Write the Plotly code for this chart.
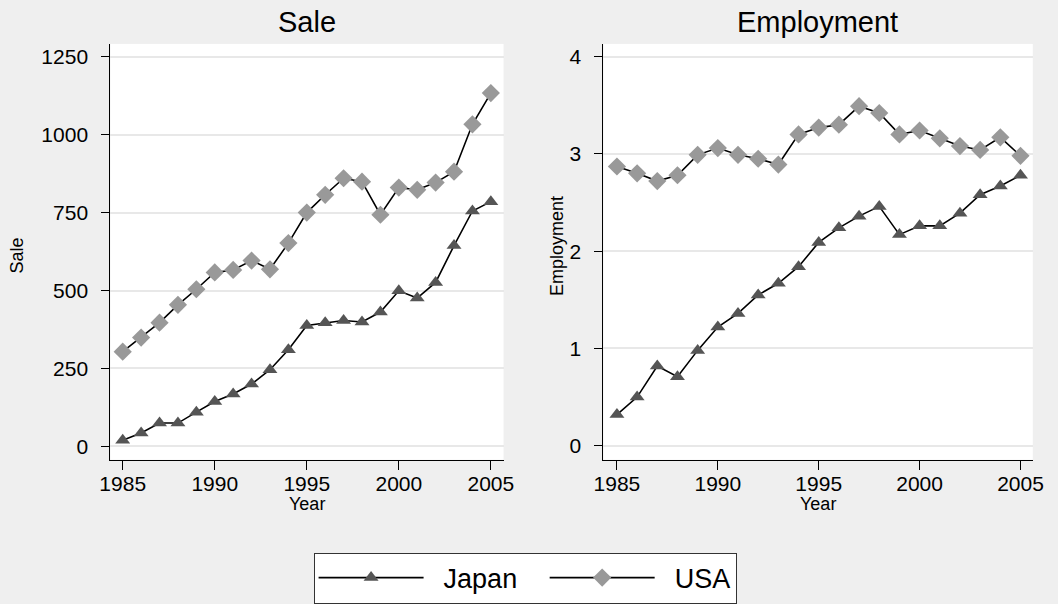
import plotly.graph_objects as go

# Annual series, 1985-2005
years = list(range(1985, 2006))

sale_japan = [20, 43, 75, 75, 110, 144, 168, 200, 246, 310, 388, 397, 404, 399,
              431, 499, 476, 526, 644, 755, 785]
sale_usa = [304, 349, 397, 454, 504, 558, 566, 596, 568, 652, 750, 807, 860, 849,
            743, 830, 823, 846, 881, 1033, 1133]

emp_japan = [0.32, 0.50, 0.82, 0.71, 0.98, 1.22, 1.36, 1.55, 1.67, 1.84, 2.09, 2.24,
             2.36, 2.46, 2.17, 2.26, 2.26, 2.39, 2.58, 2.67, 2.78]
emp_usa = [2.87, 2.80, 2.72, 2.78, 2.99, 3.06, 2.99, 2.95, 2.89, 3.20, 3.27, 3.30,
           3.49, 3.42, 3.20, 3.24, 3.16, 3.08, 3.04, 3.17, 2.98]

x_ticks = [1985, 1990, 1995, 2000, 2005]
sale_ticks = [0, 250, 500, 750, 1000, 1250]
emp_ticks = [0, 1, 2, 3, 4]

FONT = "Liberation Sans, Arial, sans-serif"
BG = "#efefef"
GRID = "#e8e8e8"
JAPAN_COLOR = "#555555"
USA_COLOR = "#999999"

W, H = 1058, 604


def px_x(v):
    return v / W


def px_y(v):
    return 1 - v / H


fig = go.Figure()

line_style = dict(color="black", width=1.6)
japan_marker = dict(symbol="triangle-up", size=13, color=JAPAN_COLOR)
usa_marker = dict(symbol="diamond", size=14, color=USA_COLOR)

# legend labels carry a little room around the text
NB = "\u00a0"
fig.add_trace(go.Scatter(x=years, y=sale_japan, mode="lines+markers",
                         name=NB * 2 + "Japan" + NB * 3,
                         line=line_style, marker=japan_marker, xaxis="x", yaxis="y",
                         legendgroup="japan"))
fig.add_trace(go.Scatter(x=years, y=sale_usa, mode="lines+markers",
                         name=NB * 2 + "USA",
                         line=line_style, marker=usa_marker, xaxis="x", yaxis="y",
                         legendgroup="usa"))
fig.add_trace(go.Scatter(x=years, y=emp_japan, mode="lines+markers", name="Japan",
                         line=line_style, marker=japan_marker, xaxis="x2", yaxis="y2",
                         legendgroup="japan", showlegend=False))
fig.add_trace(go.Scatter(x=years, y=emp_usa, mode="lines+markers", name="USA",
                         line=line_style, marker=usa_marker, xaxis="x2", yaxis="y2",
                         legendgroup="usa", showlegend=False))

y_dom = [px_y(460.5), px_y(44)]
left_dom = [px_x(101.5), px_x(503)]
right_dom = [px_x(605), px_x(1043.5)]

common_x = dict(tickvals=x_ticks, ticks="outside", ticklen=9, tickwidth=1.2,
                tickcolor="black", showline=True, linecolor="black", linewidth=1.2,
                showgrid=False, zeroline=False,
                tickfont=dict(family=FONT, size=21, color="black"),
                ticklabelstandoff=-4)
common_y = dict(ticks="outside", ticklen=8, tickwidth=1.2, tickcolor="black",
                showline=True, linecolor="black", linewidth=1.2,
                showgrid=True, gridcolor=GRID, gridwidth=1.6, zeroline=False,
                tickfont=dict(family=FONT, size=21, color="black"),
                ticklabelstandoff=9)

fig.update_layout(
    width=W, height=H,
    margin=dict(l=0, r=0, t=0, b=0),
    paper_bgcolor=BG, plot_bgcolor="white",
    font=dict(family=FONT, color="black"),
    xaxis=dict(domain=left_dom, range=[1984.33, 2005.69], anchor="y", **common_x),
    yaxis=dict(domain=y_dom, range=[-42.6, 1290.7], tickvals=sale_ticks, anchor="x",
               **common_y),
    xaxis2=dict(domain=right_dom, range=[1984.33, 2005.61], anchor="y2", **common_x),
    yaxis2=dict(domain=y_dom, range=[-0.144, 4.13], tickvals=emp_ticks, anchor="x2",
                **common_y),
    showlegend=True,
    legend=dict(orientation="h", x=px_x(525), xanchor="center", y=px_y(579),
                yanchor="middle", bgcolor="white", bordercolor="#333333",
                borderwidth=1, font=dict(family=FONT, size=27, color="black"),
                itemwidth=105, itemclick=False, itemdoubleclick=False),
)

annotations = [
    dict(text="Sale", x=px_x(302), y=px_y(22), font=dict(size=29)),
    dict(text="Employment", x=px_x(824), y=px_y(22), font=dict(size=29)),
    dict(text="Year", x=px_x(302), y=px_y(505), font=dict(size=18)),
    dict(text="Year", x=px_x(824), y=px_y(505), font=dict(size=18)),
    dict(text="Sale", x=px_x(6), y=px_y(256), font=dict(size=18), textangle=-90),
    dict(text="Employment", x=px_x(557), y=px_y(246), font=dict(size=18), textangle=-90),
]
for a in annotations:
    a.update(xref="paper", yref="paper", showarrow=False, xanchor="center",
             yanchor="middle")
    a["font"].update(family=FONT, color="black")
fig.update_layout(annotations=annotations)

fig.write_html("out.html")
